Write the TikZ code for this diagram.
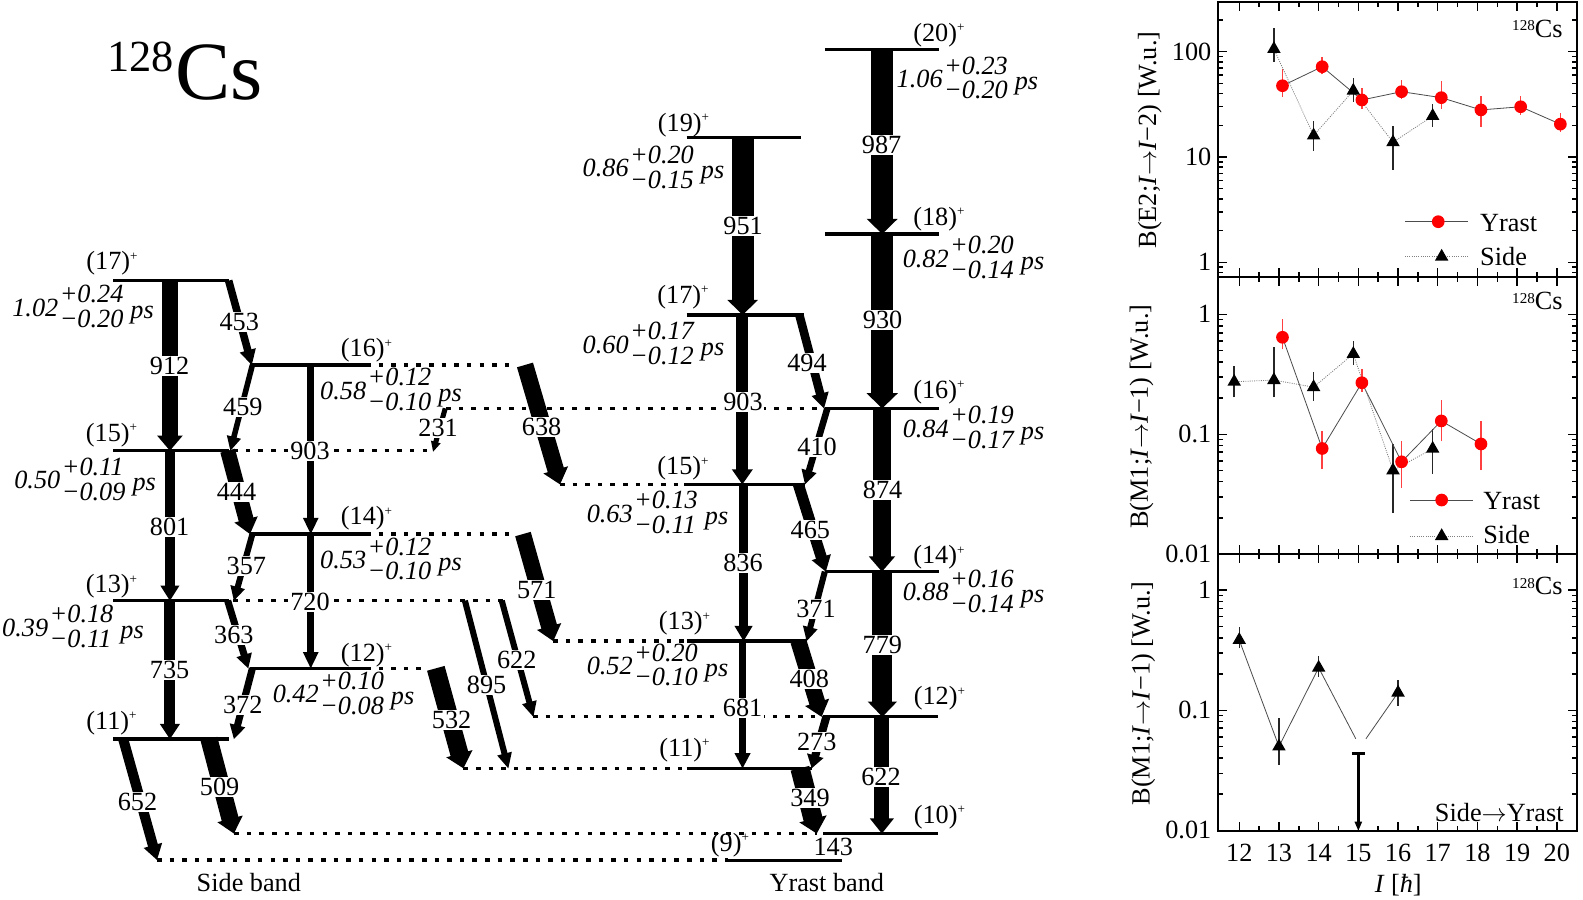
\documentclass[tikz,border=0pt]{standalone}
\usepackage{fontspec}
\setmainfont{Liberation Serif}
\usetikzlibrary{calc}
% fat gamma arrow: [extra head width]{start}{end}{shaft width}{head length}
\newcommand\gtr[5][9]{%
  \pgfmathsetmacro\gtrhw{(#4+#1)/2}%
  \pgfmathsetmacro\gtrsl{#5-1}%
  \draw[line width=#4pt] (#2) -- ($(#3)!\gtrsl pt!(#2)$);%
  \fill ($(#3)!#5pt!(#2)!\gtrhw pt!90:(#3)$) -- (#3) -- ($(#3)!#5pt!(#2)!\gtrhw pt!-90:(#3)$) -- cycle;%
}
\newcommand\ltm[3]{#1\hspace{1.5pt}\begin{tabular}{@{}l@{}}+#2\\−#3\end{tabular}\hspace{7pt}\raisebox{-2pt}{ps}}
\newcommand\spn[1]{(#1)\raisebox{9.5pt}{\fontsize{13}{13}\selectfont +}}
\newcommand\mytri[1]{\fill (#1) ++(0,-7.8) -- ++(6.7,11.7) -- ++(-13.4,0) -- cycle;}
\newcommand\mycirc[1]{\fill[red] (#1) circle (6.3);}
\newcommand\nuc{\raisebox{6.5pt}{\fontsize{15}{15}\selectfont 128}Cs}
\newcommand\arr{\ensuremath{\rightarrow}}
\tikzset{
  lev/.style={line width=3.2pt},
  dotl/.style={line width=3.3pt, dash pattern=on 4.5pt off 8pt},
  en/.style={fill=white, inner sep=1.2pt, font=\fontsize{26}{28}\selectfont},
  spin/.style={inner sep=0pt, font=\fontsize{26}{28}\selectfont},
  lt/.style={inner sep=0pt, font=\fontsize{26}{23.5}\selectfont\itshape},
  txt/.style={inner sep=0pt, font=\fontsize{26}{28}\selectfont},
  frame/.style={line width=2pt},
  tk/.style={line width=1.4pt},
  yln/.style={line width=0.8pt, gray!60!black},
  sln/.style={line width=0.8pt, gray, dash pattern=on 1pt off 1.2pt},
  ebr/.style={line width=1.5pt, red!75},
  ebk/.style={line width=1.5pt, black!85},
}
\begin{document}
\begin{tikzpicture}[x=1pt,y=-1pt,
  declare function={XI(\q)=1227.5+39.32*(\q-12); YA(\q)=259.8-104.3*log10(\q); YB(\q)=311.3-118.9*log10(\q); YC(\q)=584.4-119.2*log10(\q);}]
\useasboundingbox (0,0) rectangle (1568,891);

% ---------- title ----------
\node[anchor=base east, inner sep=0pt, font=\fontsize{44}{48}\selectfont] (t128) at (172.5,70.5) {128};
\node[anchor=base west, inner sep=0pt, font=\fontsize{82}{90}\selectfont] (tcs) at (173.5,98.5) {Cs};

% ---------- level coordinates ----------
\coordinate (s17a) at (112,278);   \coordinate (s17b) at (227,278);
\coordinate (s15a) at (112,446.4); \coordinate (s15b) at (227,446.4);
\coordinate (s13a) at (112,595);   \coordinate (s13b) at (227,595);
\coordinate (s11a) at (112,732);   \coordinate (s11b) at (227,732);
\coordinate (s16a) at (247.5,361.5); \coordinate (s16b) at (362.5,361.5);
\coordinate (s14a) at (247.5,529);   \coordinate (s14b) at (362.5,529);
\coordinate (s12a) at (247.5,662);   \coordinate (s12b) at (362.5,662);
\coordinate (y20a) at (817,48.9);  \coordinate (y20b) at (930,48.9);
\coordinate (y18a) at (817,231.8); \coordinate (y18b) at (930,231.8);
\coordinate (y16a) at (817,404.5); \coordinate (y16b) at (930,404.5);
\coordinate (y14a) at (817,566.2); \coordinate (y14b) at (930,566.2);
\coordinate (y12a) at (815.5,710); \coordinate (y12b) at (929.4,710);
\coordinate (y10a) at (815.5,825.6); \coordinate (y10b) at (929.4,825.6);
\coordinate (y19a) at (680,136);   \coordinate (y19b) at (793,136);
\coordinate (y17a) at (680,312);   \coordinate (y17b) at (796,312);
\coordinate (y15a) at (678,479.8); \coordinate (y15b) at (797,479.8);
\coordinate (y13a) at (680,635);   \coordinate (y13b) at (799,635);
\coordinate (y11a) at (680,761);   \coordinate (y11b) at (804,761);
\coordinate (y9a) at (721,852);    \coordinate (y9b) at (834,852);

% ---------- dotted links ----------
\coordinate (d1b) at (512,361.5);
\coordinate (d2a) at (442,404.5);
\coordinate (d3a) at (231,446.4); \coordinate (d3b) at (426,446.4);
\coordinate (d4a) at (554.7,479.8);
\coordinate (d5b) at (510,529);
\coordinate (d6a) at (231,595); \coordinate (d6b) at (500,595);
\coordinate (d7a) at (548,635);
\coordinate (d8b) at (422,662);
\coordinate (d9a) at (528,710);
\coordinate (d10a) at (459,761);
\coordinate (d11a) at (232,825.6); \coordinate (d11b) at (809,825.6);
\coordinate (d12a) at (155.5,852);
\draw[dotl] (s16b) -- (d1b);
\draw[dotl] (d2a) -- (y16a);
\draw[dotl] (d3a) -- (d3b);
\draw[dotl] (d4a) -- (y15a);
\draw[dotl] (s14b) -- (d5b);
\draw[dotl] (d6a) -- (d6b);
\draw[dotl] (d7a) -- (y13a);
\draw[dotl] (s12b) -- (d8b);
\draw[dotl] (d9a) -- (y12a);
\draw[dotl] (d10a) -- (y11a);
\draw[dotl] (d11a) -- (d11b);
\draw[dotl] (d12a) -- (y9a);

% ---------- levels ----------
\foreach \lv in {s17,s15,s13,s11,s16,s14,s12,y20,y18,y16,y14,y12,y10,y19,y17,y15,y13,y11,y9}
  {\draw[lev] (\lv a) -- (\lv b);}

% ---------- transitions: side band ----------
\coordinate (a912) at (168.3,278);   \coordinate (b912) at (168.3,446.4);
\coordinate (a801) at (168.3,446.4); \coordinate (b801) at (168.3,595);
\coordinate (a735) at (168.3,595);   \coordinate (b735) at (168.3,732);
\coordinate (a453) at (226.5,278);   \coordinate (b453) at (249.4,361.5);
\coordinate (a459) at (250,361.5);   \coordinate (b459) at (228.2,446.4);
\coordinate (a444) at (225.5,446.4); \coordinate (b444) at (247.6,529);
\coordinate (a357) at (250,529);     \coordinate (b357) at (231.7,595);
\coordinate (a363) at (225.5,595);   \coordinate (b363) at (245.9,662);
\coordinate (a372) at (250,662);     \coordinate (b372) at (231.7,732);
\coordinate (a903s) at (307.8,361.5); \coordinate (b903s) at (307.8,529);
\coordinate (a720) at (307.8,529);   \coordinate (b720) at (307.8,662);
\coordinate (a652) at (122,732);     \coordinate (b652) at (155.5,851.8);
\coordinate (a509) at (207,732);     \coordinate (b509) at (231.7,825.6);
\coordinate (a231) at (441,404.5);   \coordinate (b231) at (429,447.4);
\coordinate (a638) at (520,361.5);   \coordinate (b638) at (554.7,479.8);
\coordinate (a571) at (518,529);     \coordinate (b571) at (548,635);
\coordinate (a532) at (431.7,662);   \coordinate (b532) at (459,761);
\coordinate (a895) at (460.5,595);   \coordinate (b895) at (503.5,761);
\coordinate (a622s) at (497,595);    \coordinate (b622s) at (528.3,710);
\gtr{a912}{b912}{16.5}{15}
\gtr{a801}{b801}{10}{15}
\gtr{a735}{b735}{11}{15}
\gtr{a453}{b453}{7.5}{15}
\gtr{a459}{b459}{5.5}{14}
\gtr{a444}{b444}{15}{15}
\gtr{a357}{b357}{6}{14}
\gtr{a363}{b363}{7}{14}
\gtr{a372}{b372}{7}{14}
\gtr{a903s}{b903s}{6.5}{16}
\gtr{a720}{b720}{6.5}{16}
\gtr{a652}{b652}{10}{15}
\gtr{a509}{b509}{17}{15}
\gtr[5]{a231}{b231}{5}{10}
\gtr{a638}{b638}{16.5}{15}
\gtr{a571}{b571}{16}{15}
\gtr{a532}{b532}{18}{15}
\gtr{a895}{b895}{6}{15}
\gtr{a622s}{b622s}{6}{15}

% ---------- transitions: yrast band ----------
\coordinate (a987) at (873.8,48.9);  \coordinate (b987) at (873.8,231.8);
\coordinate (a930) at (873.8,231.8); \coordinate (b930) at (873.8,404.5);
\coordinate (a874) at (873.6,404.5); \coordinate (b874) at (873.6,566.2);
\coordinate (a779) at (874,566.2);   \coordinate (b779) at (874,710);
\coordinate (a622y) at (873.5,710);  \coordinate (b622y) at (873.5,825.6);
\coordinate (a951) at (735.6,136);   \coordinate (b951) at (735.6,312);
\coordinate (a903y) at (735.3,312);  \coordinate (b903y) at (735.3,479.8);
\coordinate (a836) at (736.5,479.8); \coordinate (b836) at (736.5,635);
\coordinate (a681) at (735.5,635);   \coordinate (b681) at (735.5,761);
\coordinate (a494) at (791.8,312);   \coordinate (b494) at (816.2,404.5);
\coordinate (a410) at (819.5,404.5); \coordinate (b410) at (797.4,479.8);
\coordinate (a465) at (790.8,479.8); \coordinate (b465) at (818,566.2);
\coordinate (a371) at (817,566.2);   \coordinate (b371) at (799,635);
\coordinate (a408) at (790.8,635);   \coordinate (b408) at (813.8,710);
\coordinate (a273) at (818.5,710);   \coordinate (b273) at (804,761);
\coordinate (a349) at (792.4,761);   \coordinate (b349) at (809,825.6);
\gtr{a987}{b987}{21.7}{15}
\gtr{a930}{b930}{22}{15}
\gtr{a874}{b874}{17}{15}
\gtr{a779}{b779}{20}{15}
\gtr{a622y}{b622y}{15}{15}
\gtr{a951}{b951}{21.5}{15}
\gtr{a903y}{b903y}{12}{15}
\gtr{a836}{b836}{9}{15}
\gtr{a681}{b681}{7}{15}
\gtr{a494}{b494}{8.5}{15}
\gtr{a410}{b410}{6.5}{14}
\gtr{a465}{b465}{11}{15}
\gtr{a371}{b371}{6}{14}
\gtr{a408}{b408}{16}{15}
\gtr{a273}{b273}{8}{13}
\gtr{a349}{b349}{19}{15}

% ---------- energy labels ----------
\node[en] (l912) at (168,362.5) {912};
\node[en] (l801) at (168,522.3) {801};
\node[en] (l735) at (168,663.6) {735};
\node[en] (l453) at (237,318.6) {453};
\node[en] (l459) at (240.6,402.8) {459};
\node[en] (l444) at (234.2,487.6) {444};
\node[en] (l357) at (244,561) {357};
\node[en] (l363) at (231.7,629) {363};
\node[en] (l372) at (240.5,698.3) {372};
\node[en] (l903s) at (307,446.4) {903};
\node[en] (l720) at (307,596) {720};
\node[en] (l652) at (136.2,794) {652};
\node[en] (l509) at (217.5,779.2) {509};
\node[en] (l231) at (434,424) {231};
\node[en] (l638) at (536.5,422.6) {638};
\node[en] (l571) at (531.6,584.4) {571};
\node[en] (l532) at (447.4,713.2) {532};
\node[en] (l895) at (482,678.5) {895};
\node[en] (l622s) at (511.8,653.7) {622};
\node[en] (l987) at (873.2,143.6) {987};
\node[en] (l930) at (874.3,317) {930};
\node[en] (l874) at (874.3,485.3) {874};
\node[en] (l779) at (874,638.9) {779};
\node[en] (l622y) at (872.6,769.3) {622};
\node[en] (l951) at (736.1,223.9) {951};
\node[en] (l903y) at (736,397.9) {903};
\node[en] (l836) at (736,558) {836};
\node[en] (l681) at (735.6,701.6) {681};
\node[en] (l494) at (799.3,359.6) {494};
\node[en] (l410) at (809.4,442.4) {410};
\node[en] (l465) at (802.7,525) {465};
\node[en] (l371) at (808.2,603.5) {371};
\node[en] (l408) at (801.6,672.9) {408};
\node[en] (l273) at (809,734.6) {273};
\node[en] (l349) at (802.3,790.7) {349};
\node[txt] (l143) at (825.4,838.6) {143};

% ---------- spin labels ----------
\node[spin] (p17s) at (111,261) {\spn{17}};
\node[spin] (p15s) at (110.5,431) {\spn{15}};
\node[spin] (p13s) at (110.5,581) {\spn{13}};
\node[spin] (p11s) at (110.5,716) {\spn{11}};
\node[spin] (p16s) at (363,347) {\spn{16}};
\node[spin] (p14s) at (363,513.5) {\spn{14}};
\node[spin] (p12s) at (363,649) {\spn{12}};
\node[spin] (p20y) at (930,34.7) {\spn{20}};
\node[spin] (p18y) at (930,217) {\spn{18}};
\node[spin] (p16y) at (930,388) {\spn{16}};
\node[spin] (p14y) at (930,552) {\spn{14}};
\node[spin] (p12y) at (930.5,692) {\spn{12}};
\node[spin] (p10y) at (930.5,809) {\spn{10}};
\node[spin] (p19y) at (677,124) {\spn{19}};
\node[spin] (p17y) at (676.5,294) {\spn{17}};
\node[spin] (p15y) at (676.5,464) {\spn{15}};
\node[spin] (p13y) at (678,617.5) {\spn{13}};
\node[spin] (p11y) at (678,743) {\spn{11}};
\node[spin] (p9y) at (723,837) {\spn{9}};

% ---------- lifetimes ----------
\node[lt, anchor=west] (tau17s) at (12,307) {\ltm{1.02}{0.24}{0.20}};
\node[lt, anchor=west] (tau15s) at (14,478) {\ltm{0.50}{0.11}{0.09}};
\node[lt, anchor=west] (tau13s) at (2,624) {\ltm{0.39}{0.18}{0.11}};
\node[lt, anchor=west] (tau16s) at (317,389) {\ltm{0.58}{0.12}{0.10}};
\node[lt, anchor=west] (tau14s) at (317,557) {\ltm{0.53}{0.12}{0.10}};
\node[lt, anchor=west] (tau12s) at (270,690) {\ltm{0.42}{0.10}{0.08}};
\node[lt, anchor=west] (tau20y) at (888,80.7) {\ltm{1.06}{0.23}{0.20}};
\node[lt, anchor=west] (tau19y) at (577,169) {\ltm{0.86}{0.20}{0.15}};
\node[lt, anchor=west] (tau18y) at (894,258.5) {\ltm{0.82}{0.20}{0.14}};
\node[lt, anchor=west] (tau17y) at (577,343.5) {\ltm{0.60}{0.17}{0.12}};
\node[lt, anchor=west] (tau16y) at (894,427) {\ltm{0.84}{0.19}{0.17}};
\node[lt, anchor=west] (tau15y) at (581,511) {\ltm{0.63}{0.13}{0.11}};
\node[lt, anchor=west] (tau14y) at (894,589) {\ltm{0.88}{0.16}{0.14}};
\node[lt, anchor=west] (tau13y) at (581,662) {\ltm{0.52}{0.20}{0.10}};

\node[txt] (sideb) at (246.5,874) {Side band};
\node[txt] (yrastb) at (819,874) {Yrast band};

% =================== right panels ===================
% frames
\draw[frame] (1206.7,2) rectangle (1562,274.4);
\draw[frame] (1206.7,274.4) rectangle (1562,548.7);
\draw[frame] (1206.7,548.7) rectangle (1562,822.8);
% x ticks
\foreach \yt/\yb in {2/274.4,274.4/548.7,548.7/822.8}{
  \foreach \n in {12,...,20}{
    \draw[tk] ({XI(\n)},\yb) -- ++(0,-9);
    \draw[tk] ({XI(\n)},\yt) -- ++(0,9);}
  \foreach \n in {12.5,13.5,14.5,15.5,16.5,17.5,18.5,19.5}{
    \draw[tk] ({XI(\n)},\yb) -- ++(0,-5);
    \draw[tk] ({XI(\n)},\yt) -- ++(0,5);}
}
% y ticks top
\foreach \vv in {0.8,0.9,2,3,4,5,6,7,8,9,20,30,40,50,60,70,80,90,200}{
  \draw[tk] (1206.7,{YA(\vv)}) -- ++(5,0);
  \draw[tk] (1562,{YA(\vv)}) -- ++(-5,0);}
\foreach \vv in {1,10,100}{
  \draw[tk] (1206.7,{YA(\vv)}) -- ++(9,0);
  \draw[tk] (1562,{YA(\vv)}) -- ++(-9,0);
  \node[txt, anchor=east] at (1200,{YA(\vv)}) {\vv};}
% y ticks middle & bottom
\foreach \vv in {0.02,0.03,0.04,0.05,0.06,0.07,0.08,0.09,0.2,0.3,0.4,0.5,0.6,0.7,0.8,0.9}{
  \draw[tk] (1206.7,{YB(\vv)}) -- ++(5,0);
  \draw[tk] (1562,{YB(\vv)}) -- ++(-5,0);
  \draw[tk] (1206.7,{YC(\vv)}) -- ++(5,0);
  \draw[tk] (1562,{YC(\vv)}) -- ++(-5,0);}
\foreach \vv in {0.1,1}{
  \draw[tk] (1206.7,{YB(\vv)}) -- ++(9,0);
  \draw[tk] (1562,{YB(\vv)}) -- ++(-9,0);
  \draw[tk] (1206.7,{YC(\vv)}) -- ++(9,0);
  \draw[tk] (1562,{YC(\vv)}) -- ++(-9,0);}
\foreach \vv in {0.01,0.1,1}{
  \node[txt, anchor=east] at (1200,{YB(\vv)}) {\vv};
  \node[txt, anchor=east] at (1200,{YC(\vv)}) {\vv};}
% x tick labels
\foreach \n in {12,...,20}{\node[txt] at ({XI(\n)},844.6) {\n};}
\node[txt] (xlab) at (1385,877) {\textit{I} [\textit{ħ}]};
% axis titles
\node[txt, rotate=90] (ya) at (1139,138.7) {B(E2;\textit{I}\arr\textit{I}−2) [W.u.]};
\node[txt, rotate=90] (yb) at (1130.8,412.7) {B(M1;\textit{I}\arr\textit{I}−1) [W.u.]};
\node[txt, rotate=90] (yc) at (1132.5,686.8) {B(M1;\textit{I}\arr\textit{I}−1) [W.u.]};
% nucleus labels
\node[txt, anchor=base east] at (1548,37) {\nuc};
\node[txt, anchor=base east] at (1548,307) {\nuc};
\node[txt, anchor=base east] at (1548,589) {\nuc};
\node[txt, anchor=base east] at (1549,814) {Side\arr Yrast};

% ---- top panel data ----
\foreach \n/\vv/\ql/\qh in {13/47.5/37/68,14/72/61/89,15/34.8/28.6/45,16/41.7/35.3/54,17/36.6/28.6/52.7,18/28/19.4/38,19/30/25/38,20/20.5/17.4/26}{
  \coordinate (ay\n) at ({XI(\n)+3.5},{YA(\vv)});
  \draw[ebr] ({XI(\n)+3.5},{YA(\ql)}) -- ({XI(\n)+3.5},{YA(\qh)});}
\foreach \n/\vv/\ql/\qh in {13/106/80/167,14/16/11.5/22,15/42.6/33.5/56,16/13.8/7.5/19.7,17/24.5/19.4/32}{
  \coordinate (as\n) at ({XI(\n)-5},{YA(\vv)});
  \draw[ebk] ({XI(\n)-5},{YA(\ql)}) -- ({XI(\n)-5},{YA(\qh)});}
\draw[yln] (ay13) -- (ay14) -- (ay15) -- (ay16) -- (ay17) -- (ay18) -- (ay19) -- (ay20);
\draw[sln] (as13) -- (as14) -- (as15) -- (as16) -- (as17);
\foreach \n in {13,...,20}{\mycirc{ay\n}}
\foreach \n in {13,...,17}{\mytri{as\n}}
% legend top
\coordinate (lga) at (1391.7,219.6); \coordinate (lgb) at (1454,219.6); \coordinate (lgc) at (1424.6,219.6);
\coordinate (lsa) at (1391.7,254.3); \coordinate (lsb) at (1454,254.3); \coordinate (lsc) at (1428,254.3);
\draw[yln] (lga) -- (lgb); \mycirc{lgc}
\draw[sln] (lsa) -- (lsb); \mytri{lsc}
\node[txt, anchor=base west] at (1466,229.5) {Yrast};
\node[txt, anchor=base west] at (1466,262.5) {Side};

% ---- middle panel data ----
\foreach \n/\vv/\ql/\qh in {13/0.643/0.51/0.91,14/0.0754/0.051/0.107,15/0.269/0.226/0.348,16/0.059/0.0355/0.087,17/0.126/0.087/0.193,18/0.0826/0.05/0.126}{
  \coordinate (by\n) at ({XI(\n)+3.5},{YB(\vv)});
  \draw[ebr] ({XI(\n)+3.5},{YB(\ql)}) -- ({XI(\n)+3.5},{YB(\qh)});}
\foreach \n/\vv/\ql/\qh in {12/0.274/0.203/0.373,13/0.283/0.203/0.531,14/0.247/0.19/0.332,15/0.467/0.378/0.603,16/0.05/0.022/0.083,17/0.075/0.047/0.11}{
  \coordinate (bs\n) at ({XI(\n)-5},{YB(\vv)});
  \draw[ebk] ({XI(\n)-5},{YB(\ql)}) -- ({XI(\n)-5},{YB(\qh)});}
\draw[yln] (by13) -- (by14) -- (by15) -- (by16) -- (by17) -- (by18);
\draw[sln] (bs12) -- (bs13) -- (bs14) -- (bs15) -- (bs16) -- (bs17);
\foreach \n in {13,...,18}{\mycirc{by\n}}
\foreach \n in {12,...,17}{\mytri{bs\n}}
% legend middle
\coordinate (mga) at (1396.6,495.3); \coordinate (mgb) at (1459,495.3); \coordinate (mgc) at (1428,495.3);
\coordinate (msa) at (1396.6,531); \coordinate (msb) at (1459,531); \coordinate (msc) at (1428,531);
\draw[yln] (mga) -- (mgb); \mycirc{mgc}
\draw[sln] (msa) -- (msb); \mytri{msc}
\node[txt, anchor=base west] at (1469,505) {Yrast};
\node[txt, anchor=base west] at (1469,538) {Side};

% ---- bottom panel data ----
\foreach \n/\vv/\ql/\qh in {12/0.384/0.327/0.495,13/0.05/0.0347/0.086,14/0.226/0.19/0.284,16/0.138/0.109/0.179}{
  \coordinate (cs\n) at ({XI(\n)},{YC(\vv)});
  \draw[ebk] ({XI(\n)},{YC(\ql)}) -- ({XI(\n)},{YC(\qh)});}
\coordinate (cg1) at ({XI(15)-2.5},{YC(0.058)});
\coordinate (cg2) at ({XI(15)+7.5},{YC(0.058)});
\draw[yln] (cs12) -- (cs13) -- (cs14) -- (cg1);
\draw[yln] (cg2) -- (cs16);
\foreach \n in {12,13,14,16}{\mytri{cs\n}}
\coordinate (ula) at ({XI(15)},{YC(0.0434)});
\coordinate (ulb) at ({XI(15)},822.8);
\gtr[5]{ula}{ulb}{2.7}{9}
\draw[line width=2.7pt] ($(ula)+(-6.5,0)$) -- ($(ula)+(6.5,0)$);

\end{tikzpicture}
\end{document}
